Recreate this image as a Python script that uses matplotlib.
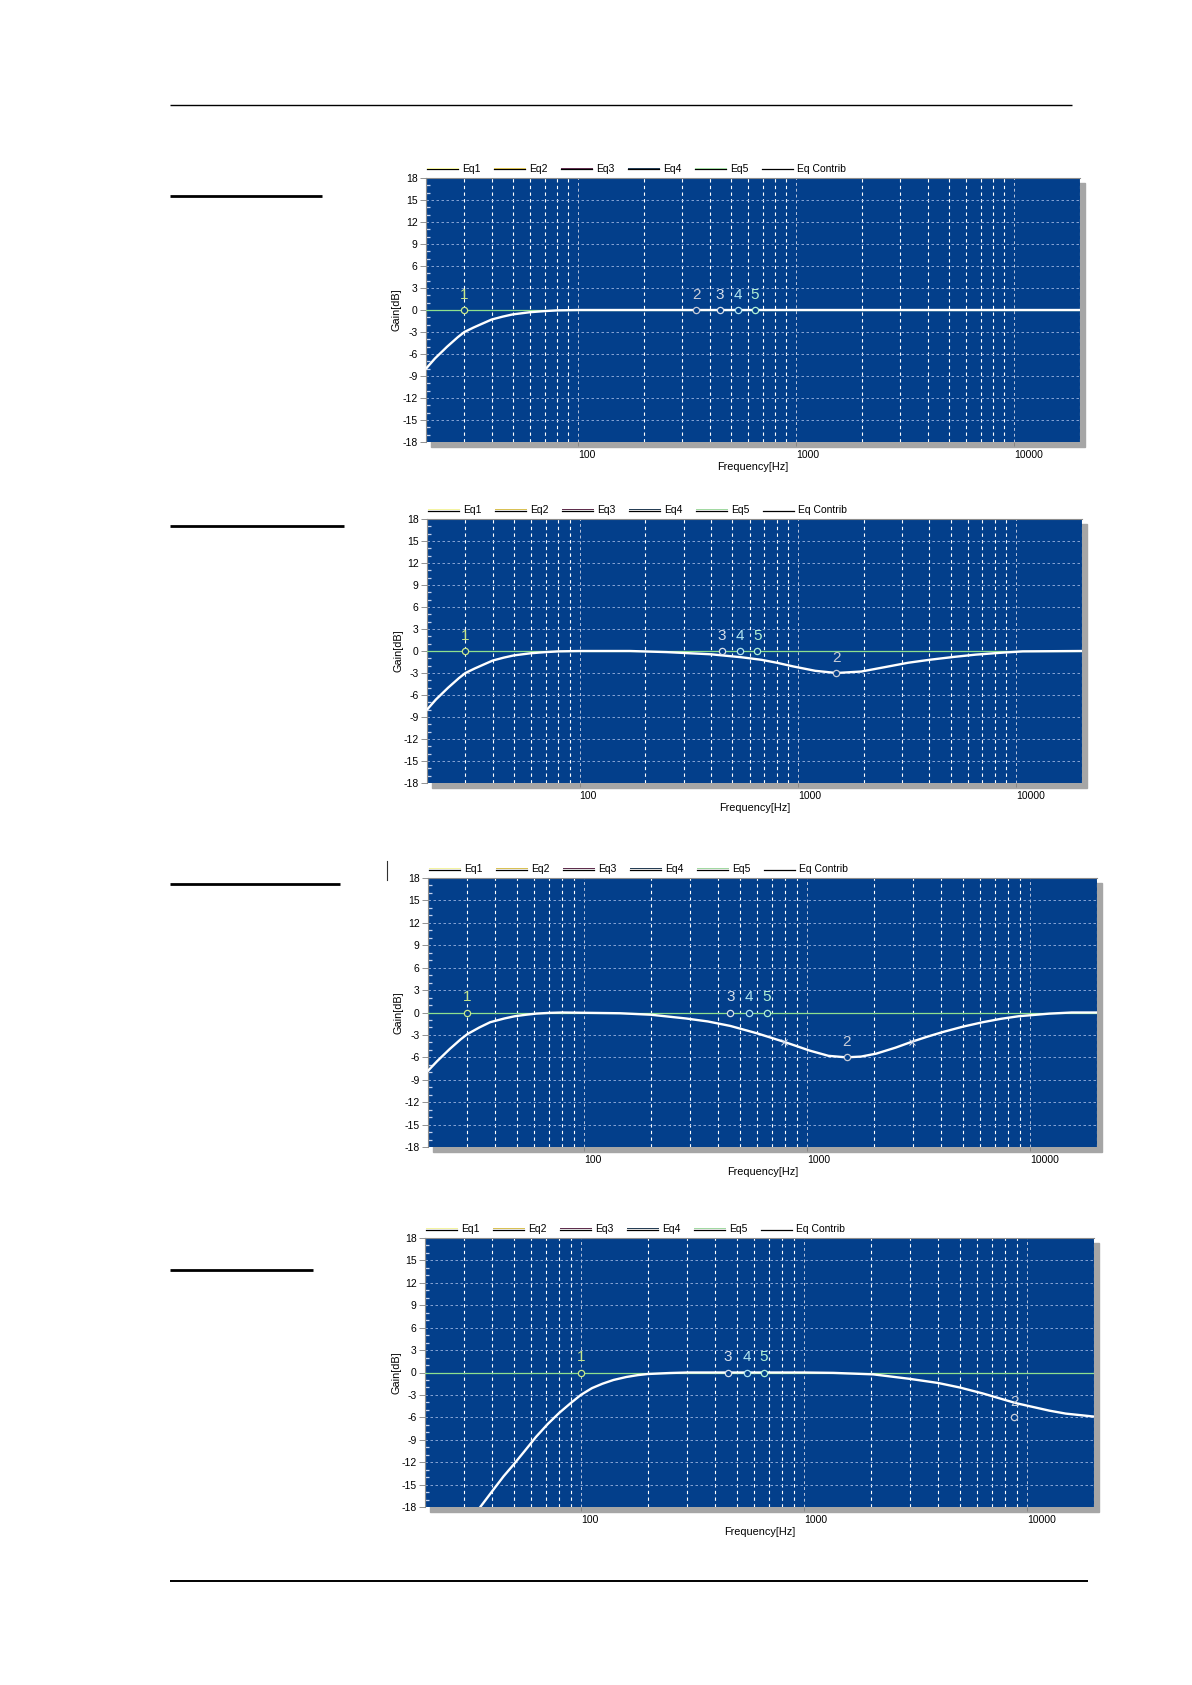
import numpy as np
import matplotlib
matplotlib.use("Agg")
import matplotlib.pyplot as plt
from matplotlib.lines import Line2D
from matplotlib.patches import Rectangle
from matplotlib.ticker import LogLocator, MultipleLocator, NullFormatter

plt.rcParams['font.family'] = ['Liberation Sans', 'DejaVu Sans']
plt.rcParams['axes.unicode_minus'] = False

W, H = 1192, 1685

# ---- data ----
legend_labels = ['Eq1', 'Eq2', 'Eq3', 'Eq4', 'Eq5', 'Eq Contrib']
legend_colors = ['#f4f4a0', '#d8c050', '#5a2848', '#203850', '#a0d8a0', None]

x_ticks = [100, 1000, 10000]
x_tick_labels = ['100', '1000', '10000']
y_ticks = [18, 15, 12, 9, 6, 3, 0, -3, -6, -9, -12, -15, -18]

p1_freq = [20, 22, 25, 28, 30, 33, 36, 40, 45, 50, 60, 70, 80, 100, 20000]
p1_gain = [-8.0, -6.6, -5.0, -3.7, -3.0, -2.4, -1.9, -1.3, -0.9, -0.6, -0.3, -0.15, -0.05, 0, 0]

p2_freq = [20, 22, 25, 28, 30, 33, 36, 40, 45, 50, 60, 70, 80, 100, 170, 250, 400, 450,
           550, 680, 800, 950, 1200, 1500, 1950, 2500, 3200, 4000, 5200, 6500, 8400, 10700, 20000]
p2_gain = [-8.0, -6.6, -5.0, -3.7, -3.0, -2.4, -1.9, -1.3, -0.9, -0.6, -0.3, -0.15, -0.05, 0, 0,
           -0.15, -0.45, -0.6, -0.85, -1.2, -1.6, -2.1, -2.7, -3.0, -2.8, -2.2, -1.6, -1.2,
           -0.8, -0.5, -0.25, -0.05, 0]

p3_freq = [20, 22, 25, 28, 30, 34, 38, 44, 49, 55, 61, 70, 80, 145, 200, 287, 360, 454, 600,
           786, 1030, 1250, 1500, 1750, 2050, 2500, 2965, 3500, 4085, 5000, 6150, 7400, 8900,
           12240, 15400, 20000]
p3_gain = [-7.8, -6.5, -4.9, -3.6, -2.9, -2.0, -1.3, -0.8, -0.5, -0.3, -0.15, -0.05, 0, -0.1,
           -0.3, -0.8, -1.2, -1.8, -2.8, -3.9, -5.1, -5.8, -6.0, -5.9, -5.5, -4.7, -3.9, -3.2,
           -2.6, -1.9, -1.3, -0.85, -0.5, -0.15, 0, 0]
p3_handle_freq = [786, 2965]
p3_handle_gain = [-3.9, -3.9]

p4_freq = [35.4, 40, 45, 50, 56, 63, 71, 80, 90, 100, 112, 125, 140, 160, 180, 200, 250, 300,
           1000, 1356, 2048, 2985, 3995, 4990, 6340, 8935, 12590, 14930, 20000]
p4_gain = [-18, -15.9, -13.9, -12.3, -10.5, -8.6, -6.9, -5.4, -4.1, -3.0, -2.1, -1.5, -1.0,
           -0.6, -0.35, -0.2, -0.07, 0, 0, -0.05, -0.25, -0.85, -1.4, -2.0, -2.8, -4.1, -5.1,
           -5.5, -5.9]

marker_ids = [1, 2, 3, 4, 5]
marker_colors = ['#c8e88c', '#c8ccd8', '#d8e0ec', '#b0e4f0', '#b0f0d4']
p1_mk_freq = [30, 347, 447, 540, 646]
p1_mk_gain = [0, 0, 0, 0, 0]
p2_mk_freq = [30, 1494, 449, 543, 650]
p2_mk_gain = [0, -3, 0, 0, 0]
p3_mk_freq = [30, 1513, 454, 552, 661]
p3_mk_gain = [0, -6, 0, 0, 0]
p4_mk_freq = [100, 8770, 456, 556, 661]
p4_mk_gain = [0, -6, 0, 0, 0]

# panel boxes in pixels: left, right, top, bottom
boxes = [(426, 1080, 178, 442), (427, 1082, 519, 783),
         (428, 1097, 878, 1147), (425, 1094, 1238, 1507)]
curves = [(p1_freq, p1_gain), (p2_freq, p2_gain), (p3_freq, p3_gain), (p4_freq, p4_gain)]
markers = [(p1_mk_freq, p1_mk_gain), (p2_mk_freq, p2_mk_gain),
           (p3_mk_freq, p3_mk_gain), (p4_mk_freq, p4_mk_gain)]

BG = '#033f8b'


def fx(px):
    return px / W


def fy(py):
    return 1 - py / H


fig = plt.figure(figsize=(W / 100, H / 100), dpi=100)
fig.patch.set_facecolor('white')


def hline(y, x0, x1, lw):
    fig.add_artist(Line2D([fx(x0), fx(x1)], [fy(y), fy(y)], transform=fig.transFigure,
                          color='black', lw=lw, solid_capstyle='butt'))


# page rules
hline(105, 170, 1072, 1.0)
hline(1581, 170, 1088, 1.4)
for yy, x1 in [(196, 322), (526, 344), (884, 340), (1270, 313)]:
    hline(yy, 170, x1, 2.0)
fig.add_artist(Line2D([fx(387), fx(387)], [fy(861), fy(880)], transform=fig.transFigure,
                      color='#303030', lw=0.8))

for k, (l, r, t, b) in enumerate(boxes):
    # drop shadow
    fig.add_artist(Rectangle((fx(l + 5), fy(b + 5)), (r - l) / W, (b - t) / H,
                             transform=fig.transFigure, color='#a6a6a6', zorder=0))
    ax = fig.add_axes([fx(l), fy(b), (r - l) / W, (b - t) / H], zorder=2)
    ax.set_facecolor(BG)
    ax.set_xscale('log')
    ax.set_xlim(20, 20000)
    ax.set_ylim(-18, 18)

    ax.xaxis.set_major_locator(LogLocator(base=10))
    ax.xaxis.set_minor_locator(LogLocator(base=10, subs=np.arange(2, 10)))
    ax.xaxis.set_minor_formatter(NullFormatter())
    ax.set_xticks(x_ticks)
    ax.set_xticklabels(x_tick_labels)
    for lbl in ax.get_xticklabels():
        lbl.set_ha('left')
    ax.set_yticks(y_ticks)
    ax.set_yticklabels([str(v) for v in y_ticks])
    ax.yaxis.set_minor_locator(MultipleLocator(1))

    ax.tick_params(axis='x', which='major', direction='out', length=3, width=0.6,
                   color='#808080', labelsize=7.5, pad=2.5)
    ax.tick_params(axis='x', which='minor', length=0)
    ax.tick_params(axis='y', which='major', direction='out', length=4.5, width=0.6,
                   color='#808080', labelsize=7.5, pad=1.5)
    ax.tick_params(axis='y', which='minor', direction='in', length=3, width=0.9,
                   color='#c4d2f0')

    ax.grid(axis='x', which='minor', color='white', ls=(0, (3, 3)), lw=0.8)
    ax.grid(axis='x', which='major', color='#b8c4dc', ls=(0, (3, 3)), lw=0.7)
    ax.grid(axis='y', which='major', color='#9cb4e0', ls=(0, (3, 3)), lw=0.6)
    ax.set_axisbelow(True)

    for s in ['bottom', 'right']:
        ax.spines[s].set_visible(False)
    for s in ['top', 'left']:
        ax.spines[s].set_color('#8c8c8c')
        ax.spines[s].set_linewidth(0.8)

    # flat band curves + contribution curve
    ax.axhline(0, color='#8ee08e', lw=0.9, zorder=3)
    fr, gn = curves[k]
    ax.plot(fr, gn, color='white', lw=1.7, zorder=4, solid_joinstyle='round')

    if k == 2:
        ax.plot(p3_handle_freq, p3_handle_gain, ls='none', marker='x', ms=4, mew=0.7,
                color='#d0d8e8', zorder=5)

    mf, mg = markers[k]
    for i, n in enumerate(marker_ids):
        c = marker_colors[i]
        ax.plot([mf[i]], [mg[i]], marker='o', ms=4.5, mfc=BG, mec=c, mew=0.9, zorder=6)
        ax.annotate(str(n), (mf[i], mg[i]), xytext=(0, 11), textcoords='offset points',
                    ha='center', va='center', fontsize=11, color=c, zorder=6)

    # axis titles
    fig.text(fx((l + r) / 2), fy(b + 25), 'Frequency[Hz]', ha='center', va='center', fontsize=7.8)
    fig.text(fx(l - 29), fy((t + b) / 2), 'Gain[dB]', rotation=90, ha='center', va='center',
             fontsize=7.8)

    # legend row
    ly = t - 9
    for i, name in enumerate(legend_labels):
        x0 = l + 1 + i * 67
        fig.add_artist(Line2D([fx(x0), fx(x0 + 31)], [fy(ly + 0.5), fy(ly + 0.5)],
                              transform=fig.transFigure, color='black', lw=0.9))
        if legend_colors[i]:
            fig.add_artist(Line2D([fx(x0), fx(x0 + 31)], [fy(ly - 0.6), fy(ly - 0.6)],
                                  transform=fig.transFigure, color=legend_colors[i], lw=0.7))
        fig.text(fx(x0 + 35), fy(ly), name, ha='left', va='center', fontsize=7.5)

fig.savefig('out.png', dpi=100, facecolor='white')
